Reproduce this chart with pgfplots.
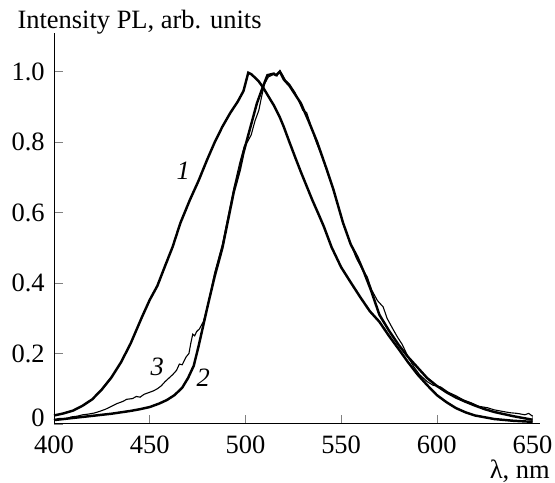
\documentclass[border=0pt]{standalone}
\usepackage{fontspec}
\setmainfont{Liberation Serif}
\usepackage{pgfplots}
\pgfplotsset{compat=1.18}
\begin{document}
\fontsize{10.8}{13}\selectfont
\begin{tikzpicture}
\begin{axis}[
  scale only axis, width=198.4pt, height=159.6pt,
  xmin=400, xmax=654, ymin=0, ymax=1.11,
  axis x line*=bottom, axis y line*=left,
  tick align=inside, major tick length=3.7pt,
  font=\fontsize{10.8}{13}\selectfont,
  xtick={400,450,...,650},
  xticklabels={400,450,500,550,600,650},
  ytick={0.2,0.4,0.6,0.8,1.0},
  yticklabels={0.2,0.4,0.6,0.8,1.0},
  extra y ticks={0}, extra y tick labels={0},
  extra y tick style={yticklabel style={yshift=2.5pt}},
  /pgf/number format/assume math mode=true,
  xticklabel style={yshift=-1pt},
  xlabel={λ, nm}, ylabel={Intensity PL, arb. units},
  every axis x label/.style={at={(axis description cs:1.0206,-0.139)},anchor=base east,inner sep=0pt},
  every axis y label/.style={at={(axis description cs:-0.076,1.01)},anchor=base west,inner sep=0pt},
  clip=false,
]
% curve 1
\addplot[black, line width=1pt] coordinates {
(400,0.024)(405,0.030)(410,0.038)(415,0.052)(420,0.070)(425,0.098)(430,0.132)
(435,0.175)(440,0.228)(446,0.304)(450,0.352)(454,0.392)(458,0.448)(462,0.503)
(466,0.570)(471,0.636)(475.5,0.690)(480,0.750)(484,0.800)(488,0.844)(492,0.882)
(496,0.915)(499,0.945)(501.5,0.997)(503,0.993)(505,0.983)(507,0.972)(509,0.957)
(512,0.930)(515,0.903)(518,0.870)(520,0.844)(523,0.800)(526,0.757)(529,0.715)
(532,0.675)(535,0.635)(538,0.598)(541,0.560)(545,0.502)(550,0.445)(555,0.402)
(560,0.360)(565,0.320)(570,0.290)(575,0.250)(580,0.213)(585,0.175)(590,0.140)
(595,0.110)(600,0.082)(605,0.062)(610,0.045)(615,0.033)(620,0.024)(630,0.014)
(640,0.009)(650,0.006)};
% curve 2
\addplot[black, line width=1pt] coordinates {
(400,0.011)(405,0.014)(410,0.017)(415,0.020)(420,0.023)(425,0.026)(430,0.029)
(435,0.033)(440,0.037)(445,0.042)(450,0.048)(455,0.058)(459,0.068)(463,0.082)
(467,0.103)(470,0.130)(473,0.165)(475.5,0.220)(478,0.280)(480.5,0.340)(484,0.420)
(488,0.500)(491,0.580)(494,0.660)(497,0.720)(499,0.770)(502.5,0.840)(506,0.910)
(509,0.955)(511.5,0.990)(514.5,0.994)(516,0.990)(518,1.000)(520,0.978)(523,0.960)
(526,0.935)(529,0.910)(533,0.860)(537.5,0.800)(542,0.730)(546,0.665)(551,0.571)
(555,0.510)(558.5,0.474)(562,0.430)(565.5,0.381)(570,0.310)(575,0.265)(580,0.225)
(585,0.190)(590,0.160)(595,0.130)(600,0.108)(605,0.090)(610,0.075)(615,0.063)
(620,0.052)(625,0.042)(630,0.034)(640,0.022)(650,0.012)};
% curve 3
\addplot[black, line width=0.45pt] coordinates {
(400,0.012)(403,0.016)(406,0.014)(409,0.020)(412,0.022)(415,0.026)(418,0.028)
(421,0.031)(424,0.036)(427,0.042)(430,0.050)(433,0.058)(436,0.064)(438,0.070)
(441,0.072)(443,0.078)(445,0.076)(447,0.084)(450,0.090)(452,0.094)(454,0.100)
(456,0.108)(458,0.120)(460,0.130)(462,0.140)(464,0.152)(465.5,0.170)(467,0.168)
(469,0.190)(470.5,0.200)(471.5,0.230)(472.5,0.255)(473.5,0.250)(474.5,0.262)
(476,0.270)(478,0.290)(480.5,0.340)(484,0.430)(488,0.510)(491,0.590)(494,0.670)
(497,0.740)(499.5,0.790)(501,0.800)(503,0.820)(505,0.860)(507,0.890)(508.5,0.930)
(510,0.965)(512,0.985)(514,0.990)(515,0.996)(516.5,0.988)(518,1.003)(519.5,0.990)
(521,0.975)(523,0.965)(526,0.940)(528,0.915)(530,0.890)(532,0.884)(534,0.850)
(537,0.800)(540.7,0.750)(543,0.710)(545,0.680)(548,0.628)(551,0.570)(554.8,0.514)
(558,0.470)(561,0.440)(563.6,0.418)(566,0.380)(569,0.350)(572,0.332)(574,0.300)
(577,0.270)(579.4,0.247)(582,0.225)(585,0.190)(588,0.162)(591,0.140)(595,0.120)
(598,0.110)(602,0.105)(606,0.090)(610,0.080)(614,0.068)(618,0.060)(622,0.050)
(626.5,0.046)(630,0.040)(634,0.036)(638,0.032)(642,0.030)(646,0.026)(648,0.030)
(650,0.022)};
\node[font=\itshape] at (axis cs:467.5,0.72) {1};
\node[font=\itshape] at (axis cs:478,0.13) {2};
\node[font=\itshape] at (axis cs:453.9,0.162) {3};
\coordinate (o) at (axis cs:400,0);
\end{axis}
\pgfresetboundingbox
\useasboundingbox (o) ++(-22.04pt,-24.08pt) rectangle ++(226.5pt,197.1pt);
\end{tikzpicture}
\end{document}
